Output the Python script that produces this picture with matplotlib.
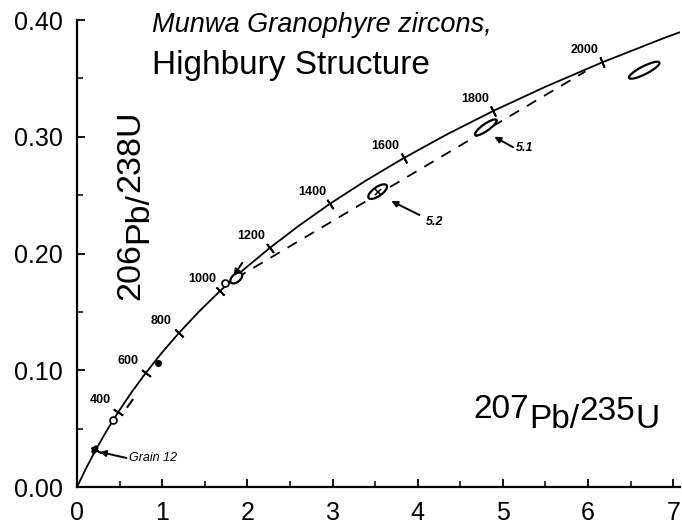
import matplotlib
matplotlib.use('Agg')
import numpy as np
import matplotlib.pyplot as plt
from matplotlib.patches import Ellipse
from matplotlib.transforms import ScaledTranslation
from matplotlib.ticker import MultipleLocator

plt.rcParams['font.family'] = ['Liberation Sans', 'DejaVu Sans']

# concordia, every 100 Ma
conc_age = [0, 100, 200, 300, 400, 500, 600, 700, 800, 900, 1000, 1100,
            1200, 1300, 1400, 1500, 1600, 1700, 1800, 1900, 2000, 2100, 2200]
conc_x = [0.0000, 0.1035, 0.2177, 0.3438, 0.4828, 0.6362, 0.8057, 0.9926,
          1.1988, 1.4264, 1.6774, 1.9546, 2.2602, 2.5976, 2.9697, 3.3811,
          3.8348, 4.3347, 4.8865, 5.4957, 6.1682, 6.9105, 7.7290]
conc_y = [0.0000, 0.0156, 0.0315, 0.0476, 0.0640, 0.0807, 0.0975, 0.1147,
          0.1321, 0.1498, 0.1678, 0.1861, 0.2046, 0.2234, 0.2426, 0.2620,
          0.2817, 0.3017, 0.3221, 0.3427, 0.3638, 0.3851, 0.4067]
tick_ages = [200, 400, 600, 800, 1000, 1200, 1400, 1600, 1800, 2000]
label_ages = [400, 600, 800, 1000, 1200, 1400, 1600, 1800, 2000]

# zircon analyses (error ellipses)
ell_x = [1.87, 3.53, 4.80, 6.66]
ell_y = [0.179, 0.253, 0.308, 0.357]
# small analyses drawn as dots
open_x = [0.42, 1.74]
open_y = [0.057, 0.175]
fill_x = [0.95]
fill_y = [0.106]
grain12_x, grain12_y = 0.21, 0.032

# discordia (dashed)
disc_x = [1.87, 5.97]
disc_y = [0.179, 0.356]
stub_x = [0.593, 0.651]
stub_y = [0.0686, 0.0746]

fig = plt.figure(figsize=(6.82, 5.24), dpi=100)
ax = fig.add_axes([0.1129, 0.0706, 0.8842, 0.8912])
ax.set_xlim(0, 7.08)
ax.set_ylim(0, 0.40)

for s in ['top', 'right']:
    ax.spines[s].set_visible(False)
for s in ['left', 'bottom']:
    ax.spines[s].set_linewidth(1.6)

ax.xaxis.set_major_locator(MultipleLocator(1))
ax.xaxis.set_minor_locator(MultipleLocator(0.5))
ax.yaxis.set_major_locator(MultipleLocator(0.1))
ax.yaxis.set_minor_locator(MultipleLocator(0.05))
ax.yaxis.set_major_formatter(matplotlib.ticker.FormatStrFormatter('%.2f'))
ax.tick_params(which='major', direction='in', length=6, width=1.3, labelsize=18, pad=10)
ax.tick_params(which='minor', direction='in', length=4, width=1.1)

# concordia curve
ax.plot(conc_x, conc_y, color='k', lw=1.3, zorder=3)

# age ticks perpendicular to the curve
for age in tick_ages:
    i = conc_age.index(age)
    p0 = ax.transData.transform((conc_x[i - 1], conc_y[i - 1]))
    p1 = ax.transData.transform((conc_x[i + 1], conc_y[i + 1]))
    ang = np.degrees(np.arctan2(p1[1] - p0[1], p1[0] - p0[0]))
    ax.plot(conc_x[i], conc_y[i], marker=(2, 2, ang), ms=8, mew=1.3,
            color='k', zorder=4)

for age in label_ages:
    i = conc_age.index(age)
    ax.annotate(str(age), xy=(conc_x[i], conc_y[i]), xytext=(-18, 12),
                textcoords='offset pixels', ha='center', va='center',
                fontsize=9, fontweight='bold')

# discordia
ax.plot(disc_x, disc_y, color='k', lw=1.3, dashes=(6, 5), zorder=2)
ax.plot(stub_x, stub_y, color='k', lw=1.5, zorder=2)

# error ellipses, sizes in pixels on the page
ell_w = [14, 22, 26, 34]
ell_h = [8, 9, 7, 8]
ell_a = [40, 35, 35, 27]
for x, y, w, h, a in zip(ell_x, ell_y, ell_w, ell_h, ell_a):
    tr = fig.dpi_scale_trans + ScaledTranslation(x, y, ax.transData)
    ax.add_patch(Ellipse((0, 0), w / 100, h / 100, angle=a, transform=tr,
                         facecolor='white', edgecolor='k', lw=1.6, zorder=5))
ax.plot(ell_x[1], ell_y[1], marker='x', ms=5, mew=1.1, color='k', zorder=6)

tr = fig.dpi_scale_trans + ScaledTranslation(grain12_x, grain12_y, ax.transData)
ax.add_patch(Ellipse((0, 0), 0.08, 0.045, angle=60, transform=tr,
                     facecolor='k', edgecolor='k', zorder=5))
ax.plot(open_x, open_y, 'o', ms=5, mfc='white', mec='k', mew=1.2, zorder=5)
ax.plot(fill_x, fill_y, 'o', ms=4, color='k', zorder=5)

# arrows and grain labels
arrow = dict(arrowstyle='-|>', color='k', lw=1.4, mutation_scale=9,
             shrinkA=0, shrinkB=0)
ax.annotate('', xy=(0.267, 0.030), xytext=(0.58, 0.0249), arrowprops=arrow)
ax.text(0.616, 0.0249, 'Grain 12', fontsize=9, fontstyle='italic', va='center')
ax.annotate('', xy=(3.69, 0.245), xytext=(4.02, 0.233), arrowprops=arrow)
ax.text(4.10, 0.227, '5.2', fontsize=9, fontstyle='italic', fontweight='bold', va='center')
ax.annotate('', xy=(4.90, 0.300), xytext=(5.12, 0.291), arrowprops=arrow)
ax.text(5.15, 0.290, '5.1', fontsize=9, fontstyle='italic', fontweight='bold', va='center')
ax.annotate('', xy=(1.84, 0.181), xytext=(1.94, 0.192), arrowprops=arrow)

# titles
ax.text(0.124, 0.975, 'Munwa Granophyre zircons,', transform=ax.transAxes,
        fontsize=19.5, fontstyle='italic', va='baseline')
ax.text(0.124, 0.885, 'Highbury Structure', transform=ax.transAxes,
        fontsize=24, va='baseline')

# axis labels built from pieces, isotopes raised
t = ax.text(0.658, 0.133, '207', transform=ax.transAxes, fontsize=24, va='bottom')
t = ax.annotate('Pb/', xy=(1, 0), xycoords=t, xytext=(0, -10),
                textcoords='offset pixels', fontsize=24, va='bottom')
t = ax.annotate('235', xy=(1, 0), xycoords=t, xytext=(0, 8),
                textcoords='offset pixels', fontsize=24, va='bottom')
t = ax.annotate('U', xy=(1, 0), xycoords=t, xytext=(0, -8),
                textcoords='offset pixels', fontsize=24, va='bottom')

t = ax.text(0.063, 0.40, '206', transform=ax.transAxes, fontsize=24.5,
            rotation=90, ha='left', va='bottom')
t = ax.annotate('Pb/', xy=(0, 1), xycoords=t, xytext=(8, 0),
                textcoords='offset pixels', fontsize=24.5, rotation=90,
                ha='left', va='bottom')
t = ax.annotate('238U', xy=(0, 1), xycoords=t, xytext=(-8, 0),
                textcoords='offset pixels', fontsize=24.5, rotation=90,
                ha='left', va='bottom')

fig.savefig('out.png', dpi=100)
